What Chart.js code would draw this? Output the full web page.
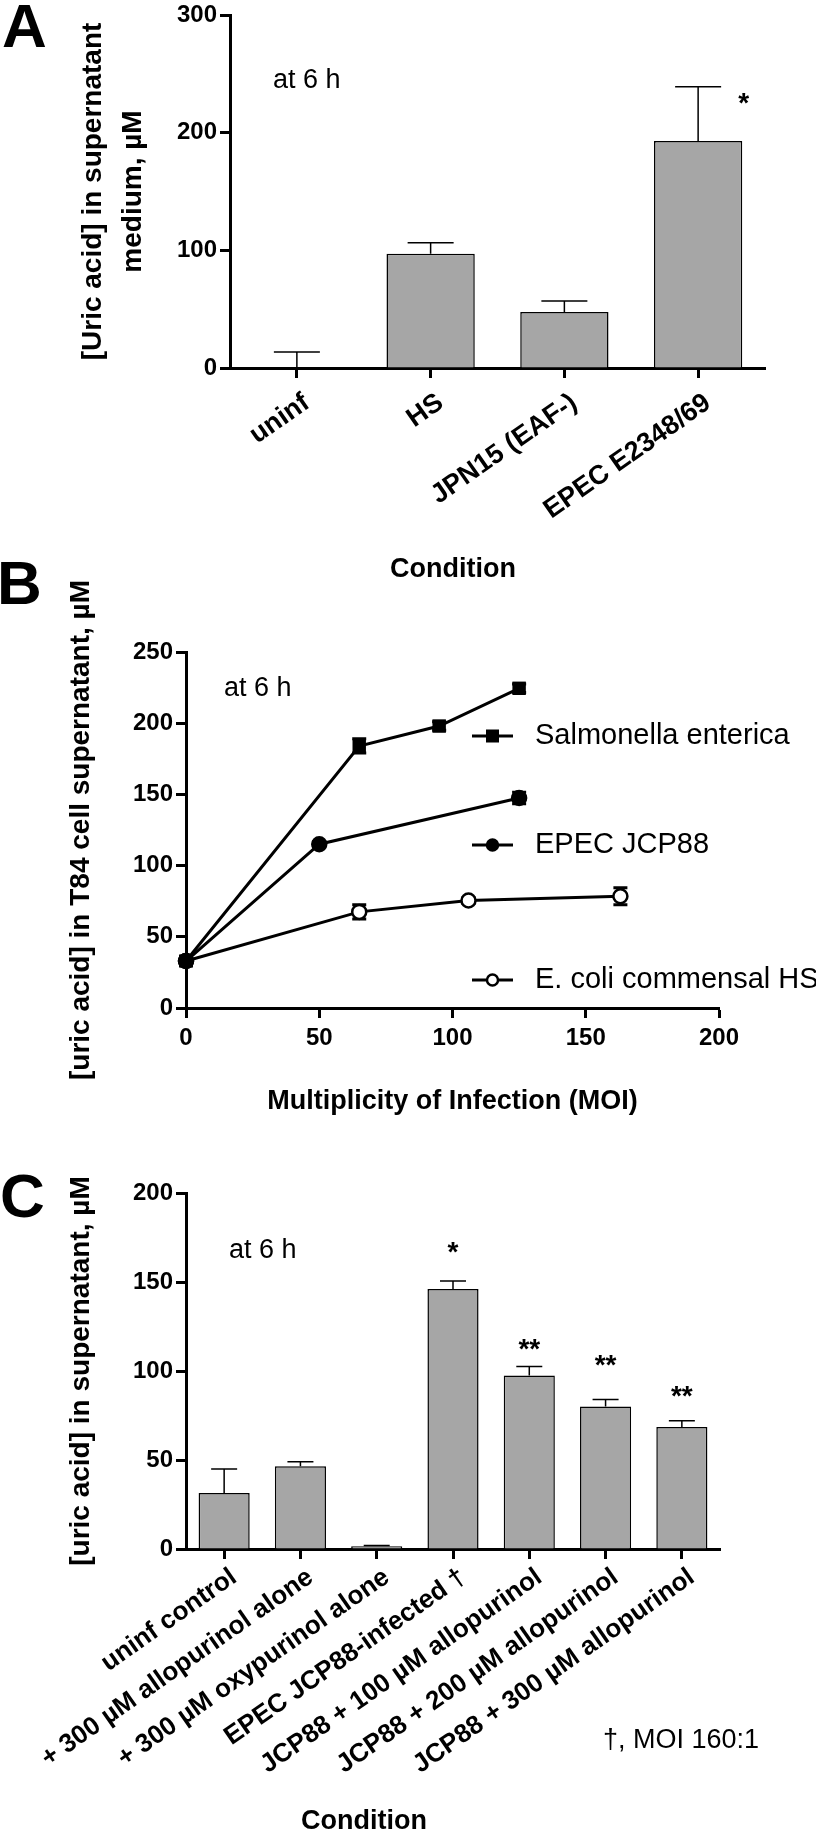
<!DOCTYPE html>
<html>
<head>
<meta charset="utf-8">
<title>Uric acid release</title>
<script src="https://cdn.jsdelivr.net/npm/chart.js@4.4.0/dist/chart.umd.min.js"></script>
<style>
  html, body { margin: 0; padding: 0; background: #fff; }
  body { width: 816px; height: 1832px; position: relative; overflow: hidden; font-family: "Liberation Sans", Arial, sans-serif; }
  canvas { position: absolute; left: 0; }
  .panel { position: absolute; font-weight: bold; font-size: 62px; line-height: 62px; color: #000; }
</style>
</head>
<body>
<canvas id="chartA" width="816" height="600" style="top:0"></canvas>
<canvas id="chartB" width="816" height="590" style="top:540px"></canvas>
<canvas id="chartC" width="816" height="712" style="top:1120px"></canvas>
<div class="panel" style="left:2px;top:-5px">A</div>
<div class="panel" style="left:-3px;top:552px">B</div>
<div class="panel" style="left:0;top:1165px">C</div>

<script>
// Panel A - uric acid at 6 h per strain
const labelsA = ['uninf', 'HS', 'JPN15 (EAF-)', 'EPEC E2348/69'];
const meanA = [0, 97, 47.5, 193];
const semA = [13.5, 9.5, 9.5, 46];
const starTextA = ['*'];
const starCatA = [3.34];
const starValA = [228];

// Panel B - uric acid vs MOI
const moiSal = [0, 65, 95, 125];
const uricSal = [33, 184, 198, 224.5];
const semSal = [3, 5, 3, 3];
const moiEpec = [0, 50, 125];
const uricEpec = [33, 115, 147.5];
const semEpec = [3, 2, 4];
const moiHS = [0, 65, 106, 163];
const uricHS = [33, 67.5, 75.5, 78.5];
const semHS = [3, 5, 2, 6];

// Panel C - allopurinol / oxypurinol
const labelsC = [
    'uninf control',
    '+ 300 \u00b5M allopurinol alone',
    '+ 300 \u00b5M oxypurinol alone',
    'EPEC JCP88-infected \u2020',
    'JCP88 + 100 \u00b5M allopurinol',
    'JCP88 + 200 \u00b5M allopurinol',
    'JCP88 + 300 \u00b5M allopurinol'
];
const meanC = [31.5, 46.5, 1.5, 146, 97.5, 80, 68.5];
const semC = [13.5, 2.5, 0.5, 4.5, 5, 4, 3.5];
const starTextC = ['*', '**', '**', '**'];
const starCatC = [3, 4, 5, 6];
const starValC = [169, 114.5, 105.5, 88];

Chart.defaults.font.family = '"Liberation Sans", Arial, sans-serif';
Chart.defaults.color = '#000';

const black = '#000';
const barGrey = '#a6a6a6';
const FONT = '"Liberation Sans", Arial, sans-serif';

// error bars drawn from the dataset's "sem" array
const errorBars = {
    id: 'errorBars',
    draw(chart, under) {
        const ctx = chart.ctx;
        const y = chart.scales.y;
        chart.data.datasets.forEach((ds, i) => {
            if (!ds.sem || !!ds.errUnder !== under) return;
            const meta = chart.getDatasetMeta(i);
            ctx.save();
            ctx.strokeStyle = black;
            ctx.lineWidth = ds.errWidth;
            meta.data.forEach((el, j) => {
                const v = ds.data[j].y !== undefined ? ds.data[j].y : ds.data[j];
                const top = y.getPixelForValue(v + ds.sem[j]);
                const bot = ds.errUnder ? y.getPixelForValue(v - ds.sem[j]) : y.getPixelForValue(v);
                ctx.beginPath();
                ctx.moveTo(el.x, bot);
                ctx.lineTo(el.x, top);
                ctx.moveTo(el.x - ds.capHalf, top);
                ctx.lineTo(el.x + ds.capHalf, top);
                if (ds.errUnder) {
                    ctx.moveTo(el.x - ds.capHalf, bot);
                    ctx.lineTo(el.x + ds.capHalf, bot);
                }
                ctx.stroke();
            });
            ctx.restore();
        });
    },
    beforeDatasetsDraw(chart) { this.draw(chart, true); },
    afterDatasetsDraw(chart) { this.draw(chart, false); }
};

// free text: asterisks, "at 6 h", titles, footnote
function notesPlugin(items) {
    return {
        id: 'notes',
        afterDraw(chart) {
            const ctx = chart.ctx;
            items.forEach(n => {
                let x = n.x, y = n.y;
                if (n.onData) {
                    x = chart.scales.x.getPixelForValue(n.x);
                    y = chart.scales.y.getPixelForValue(n.y);
                }
                ctx.save();
                ctx.fillStyle = black;
                ctx.font = n.font;
                ctx.textAlign = n.align || 'left';
                ctx.textBaseline = n.baseline || 'middle';
                ctx.fillText(n.text, x, y + (n.shift || 0));
                ctx.restore();
            });
        }
    };
}

// legend for panel B, drawn beside the curves
function sideLegend(x0, x1, textX, rows) {
    return {
        id: 'sideLegend',
        afterDraw(chart) {
            const ctx = chart.ctx;
            const mid = (x0 + x1) / 2;
            chart.data.datasets.forEach((ds, i) => {
                const yy = rows[i];
                ctx.save();
                ctx.strokeStyle = black;
                ctx.lineWidth = 3;
                ctx.beginPath();
                ctx.moveTo(x0, yy);
                ctx.lineTo(x1, yy);
                ctx.stroke();
                ctx.fillStyle = ds.pointBackgroundColor;
                ctx.lineWidth = ds.pointBorderWidth;
                if (ds.pointStyle === 'rect') {
                    ctx.fillRect(mid - 6.5, yy - 6.5, 13, 13);
                } else {
                    ctx.beginPath();
                    ctx.arc(mid, yy, 5.5, 0, Math.PI * 2);
                    ctx.fill();
                    ctx.stroke();
                }
                ctx.fillStyle = black;
                ctx.font = '29px ' + FONT;
                ctx.textAlign = 'left';
                ctx.textBaseline = 'middle';
                ctx.fillText(ds.label, textX, yy);
                ctx.restore();
            });
        }
    };
}

function yAxis(max, step, width, title, titleSize, lineHeight, titlePad) {
    return {
        min: 0,
        max: max,
        afterFit: s => { s.width = width; },
        border: { display: true, color: black, width: 3 },
        grid: { display: true, drawOnChartArea: false, drawTicks: true, tickLength: 10, tickWidth: 3, tickColor: black },
        ticks: { stepSize: step, padding: 3, color: black, font: { size: 24, weight: 'bold', lineHeight: 1 } },
        title: {
            display: true, text: title, color: black,
            font: { size: titleSize, weight: 'bold', lineHeight: lineHeight },
            padding: { top: titlePad, bottom: 0 }
        }
    };
}

function categoryAxis(height, fontSize, pad) {
    return {
        afterFit: s => { s.height = height; },
        border: { display: true, color: black, width: 3 },
        grid: { display: true, offset: false, drawOnChartArea: false, drawTicks: true, tickLength: 10, tickWidth: 3, tickColor: black },
        ticks: {
            autoSkip: false, minRotation: 35, maxRotation: 35, padding: pad, labelOffset: 10, color: black,
            font: { size: fontSize, weight: 'bold', lineHeight: 1.1 }
        }
    };
}

const atSix = (x, y) => ({ text: 'at 6 h', x: x, y: y, font: '27px ' + FONT, baseline: 'alphabetic' });
const starNotes = (txt, cats, vals) => txt.map((t, i) => ({
    text: t, x: cats[i], y: vals[i], onData: true, align: 'center', shift: 5,
    font: 'bold 28px ' + FONT
}));

// Panel A
new Chart(document.getElementById('chartA'), {
    type: 'bar',
    data: {
        labels: labelsA,
        datasets: [{
            data: meanA, sem: semA, errWidth: 1.5, capHalf: 23,
            backgroundColor: barGrey, borderColor: black, borderWidth: 1.5,
            barPercentage: 0.66, categoryPercentage: 1
        }]
    },
    options: {
        responsive: false, animation: false, devicePixelRatio: 1,
        layout: { padding: { left: 0, right: 51, top: 13, bottom: 0 } },
        scales: {
            x: categoryAxis(232, 27, 10),
            y: yAxis(300, 100, 230, ['[Uric acid] in supernatant', 'medium, \u00b5M'], 28, 40 / 28, 73)
        },
        plugins: { legend: { display: false }, tooltip: { enabled: false } }
    },
    plugins: [errorBars, notesPlugin([
        atSix(273, 88),
        { text: 'Condition', x: 453, y: 570, align: 'center', font: 'bold 27px ' + FONT }
    ].concat(starNotes(starTextA, starCatA, starValA)))]
});

// Panel B
const pts = (xs, ys) => xs.map((x, i) => ({ x: x, y: ys[i] }));
const lineSet = (label, xs, ys, sem, style, fill) => ({
    label: label, data: pts(xs, ys), sem: sem, errUnder: true, errWidth: 3, capHalf: 7,
    borderColor: black, borderWidth: 3, tension: 0, clip: false,
    pointStyle: style, pointRadius: style === 'rect' ? 9.5 : 7,
    pointBackgroundColor: fill, pointBorderColor: black, pointBorderWidth: style === 'rect' ? 0 : 2.5
});

new Chart(document.getElementById('chartB'), {
    type: 'line',
    data: {
        datasets: [
            lineSet('Salmonella enterica', moiSal, uricSal, semSal, 'rect', black),
            lineSet('EPEC JCP88', moiEpec, uricEpec, semEpec, 'circle', black),
            lineSet('E. coli commensal HS', moiHS, uricHS, semHS, 'circle', '#fff')
        ]
    },
    options: {
        responsive: false, animation: false, devicePixelRatio: 1,
        layout: { padding: { left: 0, right: 97, top: 112, bottom: 8 } },
        scales: {
            x: {
                type: 'linear', min: 0, max: 200,
                afterFit: s => { s.height = 114; },
                border: { display: true, color: black, width: 3 },
                grid: { display: true, drawOnChartArea: false, drawTicks: true, tickLength: 10, tickWidth: 3, tickColor: black },
                ticks: { stepSize: 50, padding: 8, color: black, font: { size: 24, weight: 'bold', lineHeight: 1 } },
                title: {
                    display: true, text: 'Multiplicity of Infection (MOI)', color: black,
                    font: { size: 27, weight: 'bold', lineHeight: 1.2 }, padding: { top: 4, bottom: 4 }
                }
            },
            y: yAxis(250, 50, 186, '[uric acid] in T84 cell supernatant, \u00b5M', 28, 1.2, 64)
        },
        plugins: { legend: { display: false }, tooltip: { enabled: false } }
    },
    plugins: [errorBars, notesPlugin([atSix(224, 156)]), sideLegend(472, 513, 535, [196, 305, 440])]
});

// Panel C
new Chart(document.getElementById('chartC'), {
    type: 'bar',
    data: {
        labels: labelsC,
        datasets: [{
            data: meanC, sem: semC, errWidth: 1.5, capHalf: 13,
            backgroundColor: barGrey, borderColor: black, borderWidth: 1.5,
            barPercentage: 0.67, categoryPercentage: 1
        }]
    },
    options: {
        responsive: false, animation: false, devicePixelRatio: 1,
        layout: { padding: { left: 0, right: 96, top: 73, bottom: 0 } },
        scales: {
            x: categoryAxis(283, 26, 4),
            y: yAxis(200, 50, 186, '[uric acid] in supernatant, \u00b5M', 28, 1.2, 64)
        },
        plugins: { legend: { display: false }, tooltip: { enabled: false } }
    },
    plugins: [errorBars, notesPlugin([
        atSix(229, 138),
        { text: '\u2020, MOI 160:1', x: 603, y: 621, font: '27px ' + FONT },
        { text: 'Condition', x: 364, y: 702, align: 'center', font: 'bold 27px ' + FONT }
    ].concat(starNotes(starTextC, starCatC, starValC)))]
});
</script>
</body>
</html>
